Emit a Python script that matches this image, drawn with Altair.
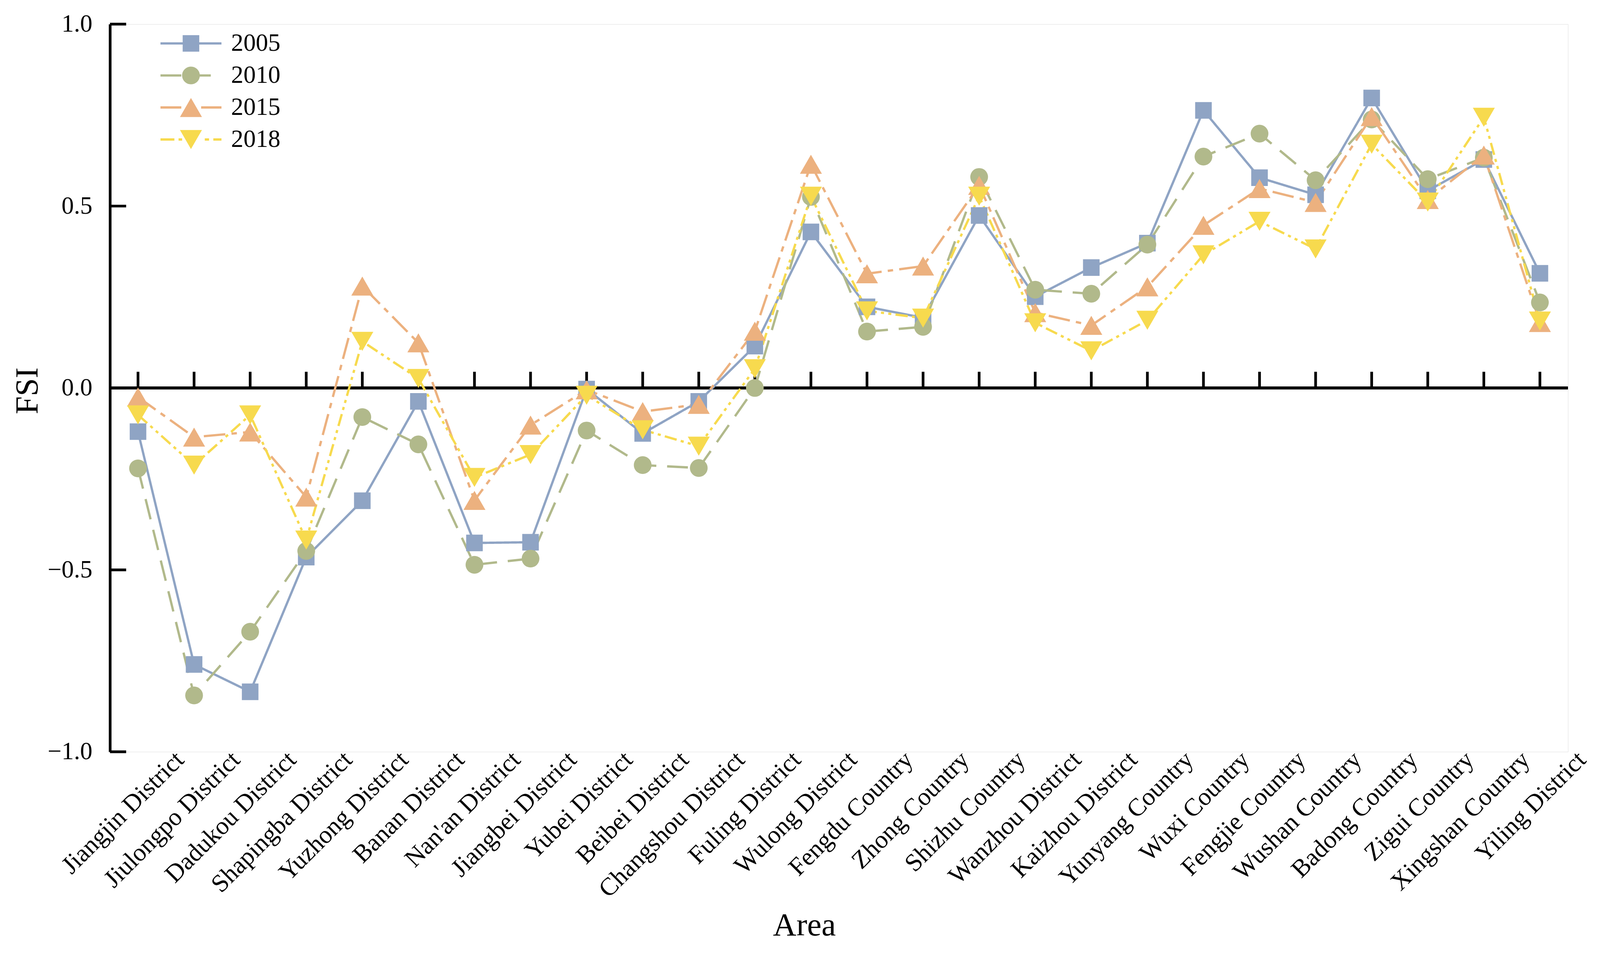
import altair as alt
import pandas as pd

areas = ["Jiangjin District", "Jiulongpo District", "Dadukou District", "Shapingba District",
         "Yuzhong District", "Banan District", "Nan'an District", "Jiangbei District",
         "Yubei District", "Beibei District", "Changshou District", "Fuling District",
         "Wulong District", "Fengdu Country", "Zhong Country", "Shizhu Country",
         "Wanzhou District", "Kaizhou District", "Yunyang Country", "Wuxi Country",
         "Fengjie Country", "Wushan Country", "Badong Country", "Zigui Country",
         "Xingshan Country", "Yiling District"]

years = ["2005", "2010", "2015", "2018"]

fsi_2005 = [-0.12, -0.76, -0.835, -0.465, -0.31, -0.037, -0.426, -0.424, -0.003, -0.125,
            -0.037, 0.115, 0.429, 0.223, 0.193, 0.474, 0.251, 0.331, 0.398, 0.763,
            0.578, 0.531, 0.797, 0.542, 0.628, 0.315]
fsi_2010 = [-0.221, -0.845, -0.67, -0.448, -0.08, -0.155, -0.486, -0.469, -0.117, -0.212,
            -0.22, 0.0, 0.525, 0.155, 0.168, 0.58, 0.27, 0.259, 0.394, 0.636,
            0.699, 0.571, 0.738, 0.574, 0.633, 0.235]
fsi_2015 = [-0.025, -0.135, -0.121, -0.30, 0.28, 0.124, -0.309, -0.102, -0.005, -0.065,
            -0.045, 0.156, 0.615, 0.314, 0.335, 0.557, 0.207, 0.172, 0.278, 0.447,
            0.548, 0.51, 0.746, 0.518, 0.64, 0.18]
fsi_2018 = [-0.074, -0.212, -0.074, -0.418, 0.128, 0.026, -0.246, -0.183, -0.02, -0.115,
            -0.16, 0.053, 0.527, 0.212, 0.192, 0.527, 0.179, 0.102, 0.186, 0.366,
            0.458, 0.382, 0.67, 0.511, 0.744, 0.184]

yticks = [-1.0, -0.5, 0.0, 0.5, 1.0]

colors = ["#8FA4C4", "#B1B98B", "#ECB17F", "#F7DA4E"]
shapes = ["square", "circle", "triangle-up", "triangle-down"]
sizes = [1850, 2116, 3250, 3250]
dashes = [[1, 0], [54, 28], [56, 16, 14, 16], [32, 11, 8, 11, 8, 11]]


# legend keys: dashed line drawn as thin filled bars, with the marker on top
def bars(segs, t=0.114):
    return "".join(f"M{a},{-t}H{b}V{t}H{a}Z" for a, b in segs)


legend_paths = [
    bars([(-3, 3)]) + "M-0.816,-0.816H0.816V0.816H-0.816Z",
    bars([(-3, -0.95), (0.5, 1.95)])
    + "M0.873,0A0.873,0.873,0,1,1,-0.873,0A0.873,0.873,0,1,1,0.873,0Z",
    bars([(-3, -0.95), (1.0, 3)]) + "M0,-0.937L1.082,0.937L-1.082,0.937Z",
    bars([(-3, -1.63), (-1.22, -0.87), (1.36, 1.78), (2.2, 3)])
    + "M0,0.937L1.082,-0.937L-1.082,-0.937Z",
]

series = [fsi_2005, fsi_2010, fsi_2015, fsi_2018]
rows = []
for yr, vals in zip(years, series):
    for a, v in zip(areas, vals):
        rows.append({"Area": a, "Year": yr, "FSI": v})
df = pd.DataFrame(rows)

W, H = 3780, 1886
FONT = "Liberation Serif"

xscale = alt.Scale(type="point", padding=0.5)

xenc = alt.X("Area:N", sort=areas, scale=xscale,
             axis=alt.Axis(title="Area", domain=False, ticks=False, labelAngle=-45,
                           labelAlign="right", labelBaseline="middle", labelOffset=108,
                           labelPadding=10, labelFont=FONT, labelFontSize=65,
                           labelColor="black", labelOverlap=False, labelFlush=False,
                           labelLimit=2000,
                           titleFont=FONT, titleFontSize=84, titleFontWeight="normal",
                           titleColor="black", titleX=1800, titleY=475,
                           titleBaseline="alphabetic", titleAlign="center"))

yenc = alt.Y("FSI:Q", scale=alt.Scale(domain=[-1, 1], nice=False, zero=False),
             axis=alt.Axis(title="FSI", values=yticks, format=".1f", grid=False,
                           ticks=False, tickSize=0, domainColor="black", domainWidth=7,
                           labelFont=FONT, labelFontSize=64, labelColor="black",
                           labelPadding=46, titleFont=FONT, titleFontSize=84,
                           titleFontWeight="normal", titleColor="black",
                           titleAngle=-90, titleX=-213, titleY=950,
                           titleBaseline="middle", titleAlign="center"))

base = alt.Chart(df)

line_layers = []
point_layers = []
for i, (yr, shp, sz, col, dsh) in enumerate(zip(years, shapes, sizes, colors, dashes)):
    sub = base.transform_filter(alt.datum.Year == yr)
    line_layers.append(
        sub.mark_line(strokeWidth=6, color=col, strokeDash=dsh).encode(
            x=xenc if i == 0 else alt.X("Area:N", sort=areas),
            y=yenc if i == 0 else alt.Y("FSI:Q"),
        )
    )
    point_layers.append(
        sub.mark_point(filled=True, opacity=1, strokeWidth=0, shape=shp, size=sz, color=col)
        .encode(x=alt.X("Area:N", sort=areas), y="FSI:Q")
    )

legend = alt.Legend(
    title=None, orient="none", legendX=125, legendY=18,
    labelFont=FONT, labelFontSize=64, labelColor="black",
    symbolSize=2777, symbolOffset=53, labelOffset=72, rowPadding=19, padding=0,
    symbolStrokeWidth=0, symbolOpacity=1,
)

# legend carrier: invisible marks; the key shows a line through each marker
legend_layer = base.mark_point(filled=True, opacity=0, size=10).encode(
    x=alt.X("Area:N", sort=areas), y="FSI:Q",
    color=alt.Color("Year:N", scale=alt.Scale(domain=years, range=colors), legend=legend),
    shape=alt.Shape("Year:N", scale=alt.Scale(domain=years, range=legend_paths), legend=legend),
)

zero_line = alt.Chart(pd.DataFrame({"z": [0.0]})).mark_rule(color="black", strokeWidth=8).encode(
    y="z:Q", x=alt.value(0), x2=alt.value(W)
)

xticks = alt.Chart(pd.DataFrame({"Area": areas})).mark_rule(color="black", strokeWidth=7).encode(
    x=alt.X("Area:N", sort=areas), y=alt.datum(0), y2=alt.datum(0.0445)
)

ytick_marks = alt.Chart(pd.DataFrame({"t": yticks})).mark_rule(color="black", strokeWidth=7).encode(
    y="t:Q", x=alt.value(0), x2=alt.value(42)
)

chart = alt.layer(zero_line, xticks, ytick_marks, *line_layers, *point_layers, legend_layer).properties(
    width=W, height=H,
    autosize=alt.AutoSizeParams(type="none"),
    padding={"left": 277, "top": 39, "right": 75, "bottom": 500},
).configure_view(stroke=None).configure(font=FONT)

chart.save("out.html", embed_options={"renderer": "svg", "actions": False})
